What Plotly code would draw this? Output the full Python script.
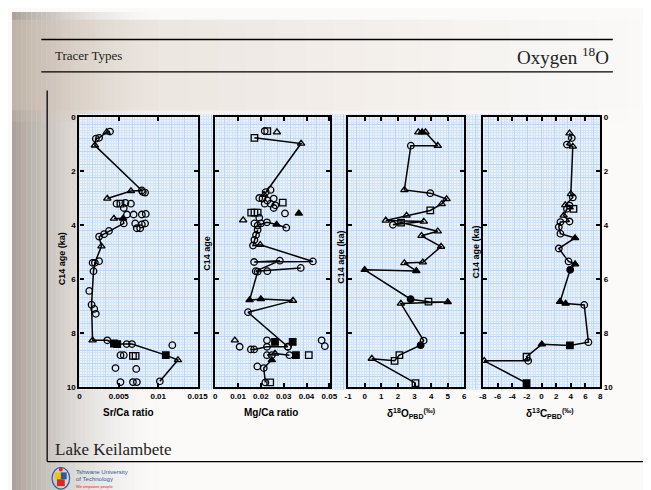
import plotly.graph_objects as go

# ---------------- data ----------------
# Panel 1: Sr/Ca ratio vs C14 age (ka); None separates connected segments
sr_line_x = [0.00388, 0.00346, 0.00250, 0.00208, 0.00196, 0.00792, 0.00654, 0.00354, None,
             0.00438, 0.00554, 0.00563, 0.00375, 0.00313, 0.00250, 0.00279, 0.00196, 0.00179,
             0.00154, 0.00167, 0.00354, 0.00438, 0.00480, 0.00667, 0.01096, 0.01250, 0.01021]
sr_line_age = [0.54, 0.56, 0.77, 0.80, 1.05, 2.72, 2.74, 3.02, None,
               3.76, 3.76, 3.94, 4.22, 4.34, 4.43, 4.79, 5.40, 5.71,
               6.95, 8.27, 8.27, 8.39, 8.41, 8.41, 8.82, 9.00, 9.79]
sr_line_sym = ["C", "T", "C", "C", "T", "C", "T", "T", "C",
               "T", "FT", "C", "C", "C", "C", "T", "C", "C",
               "C", "T", "C", "FS", "FS", "C", "FS", "T", "C"]
sr_pts_x = [0.00804, 0.00833, 0.00471, 0.00521, 0.00583, 0.00654, 0.00563, 0.00604, 0.00688,
            0.00792, 0.00842, 0.00708, 0.00792, 0.00833, 0.00729, 0.00771, 0.00167, 0.00250,
            0.00125, 0.00188, 0.00208, 0.01179, 0.00521, 0.00563, 0.00679, 0.00713, 0.00458,
            0.00721, 0.00521, 0.00679, 0.00729, 0.00600]
sr_pts_age = [2.78, 2.80, 3.21, 3.21, 3.18, 3.21, 3.37, 3.61, 3.61,
              3.61, 3.59, 3.94, 3.98, 3.94, 4.12, 4.12, 5.40, 5.34,
              6.44, 7.11, 7.29, 8.45, 8.82, 8.82, 8.85, 8.85, 9.30,
              9.33, 9.82, 9.82, 9.82, 8.41]
sr_pts_sym = ["C", "C", "C", "S", "C", "C", "C", "C", "C",
              "C", "C", "C", "C", "C", "C", "C", "C", "C",
              "C", "C", "C", "C", "C", "C", "S", "S", "C",
              "C", "C", "C", "C", "C"]

# Panel 2: Mg/Ca ratio
mg_line_x = [0.01718, 0.03761, 0.02141, None,
             0.01859, 0.02268, 0.02690, 0.03113, None,
             0.01859, 0.01789, 0.01718, 0.01655, 0.01972, 0.04280, 0.01704, 0.02831, 0.01775, 0.03746, None,
             0.01859, 0.01507, 0.02000, 0.03408, 0.01437, 0.03183, None,
             0.01563, 0.01704, 0.02268, 0.03183, None,
             0.02268, 0.02620, 0.03254, None,
             0.02479, 0.02127, 0.02197]
mg_line_age = [0.77, 0.98, 2.88, None,
               4.02, 3.90, 3.98, 4.10, None,
               4.18, 4.37, 4.55, 4.76, 4.73, 5.35, 5.37, 5.32, 5.71, 5.59, None,
               5.73, 6.78, 6.74, 6.80, 7.23, 8.51, None,
               8.61, 8.61, 8.51, 8.51, None,
               8.82, 8.76, 8.82, None,
               9.00, 9.30, 9.83]
mg_line_sym = ["S", "T", "T", "C",
               "C", "C", "FT", "C", "C",
               "C", "C", "C", "C", "T", "C", "C", "C", "C", "C", "C",
               "C", "FT", "FT", "T", "C", "C", "C",
               "C", "C", "C", "C", "C",
               "C", "T", "C", "C",
               "FT", "C", "C"]
mg_pts_x = [0.02169, 0.02282, 0.02704,
            0.02423, 0.02211, 0.01930, 0.02070, 0.02282, 0.02563, 0.02169, 0.02423, 0.02634, 0.02958, 0.02563,
            0.01577, 0.01718, 0.01859, 0.03056, 0.03662, 0.01225,
            0.01930, 0.01718, 0.02000,
            0.02282,
            0.02620, 0.03394, 0.02268, 0.00859, 0.01070,
            0.02479, 0.03535, 0.04099, 0.04662, 0.04803,
            0.01845, 0.02408]
mg_pts_age = [0.52, 0.52, 0.56,
              2.70, 2.78, 3.00, 3.02, 3.09, 3.02, 3.21, 3.21, 3.27, 3.17, 3.37,
              3.54, 3.54, 3.54, 3.57, 3.57, 3.82,
              3.73, 3.94, 3.94,
              5.71,
              8.33, 8.33, 8.27, 8.27, 8.51,
              8.82, 8.82, 8.82, 8.27, 8.49,
              9.24, 9.83]
mg_pts_sym = ["C", "S", "T",
              "C", "C", "C", "C", "C", "C", "C", "C", "C", "S", "C",
              "S", "S", "S", "C", "FT", "T",
              "C", "C", "C",
              "C",
              "FS", "FS", "C", "T", "C",
              "C", "FS", "S", "C", "C",
              "C", "S"]

# Panel 3: delta 18O PBD (per mil)
o18_line_x = [3.23, 3.46, 3.66, 4.40, 2.78, 2.39, 3.95, 4.93, 4.64, 3.95, 2.52, 1.27, 3.56,
              1.70, 2.19, 4.40, 3.42, 4.60, 3.50, 2.39, 3.11, 0.00, 2.77, 3.84, 5.00, 2.18,
              3.55, 3.37, 2.09, 1.80, 0.43, 3.06]
o18_line_age = [0.56, 0.56, 0.56, 1.06, 1.06, 2.70, 2.82, 3.04, 3.22, 3.46, 3.65, 3.83, 3.87,
                3.99, 3.91, 4.23, 4.40, 4.80, 5.38, 5.41, 5.70, 5.66, 6.75, 6.84, 6.85, 6.91,
                8.28, 8.45, 8.82, 9.03, 8.95, 9.86]
o18_line_sym = ["T", "FT", "T", "T", "C", "T", "C", "T", "T", "S", "T", "T", "T",
                "C", "S", "T", "T", "T", "T", "T", "FT", "FT", "FC", "S", "FT", "T",
                "C", "FC", "S", "S", "T", "S"]

# Panel 4: delta 13C PBD (per mil)
c13_line_x = [3.82, 4.13, 3.47, 4.27, 4.00, 4.27, 3.24, 3.82, 4.36, 3.47, 3.02, 3.82, 2.58,
              2.36, 2.58, 4.58, 2.36, 3.69, 4.58, 3.91, 2.53, 3.29, 5.83, 6.40, 3.87, 0.04,
              -2.04, -1.82, -7.82, -2.04]
c13_line_age = [0.60, 0.78, 1.02, 1.09, 2.85, 2.98, 3.26, 3.28, 3.40, 3.40, 3.65, 3.87, 3.89,
                4.07, 4.32, 4.48, 4.87, 5.35, 5.45, 5.66, 6.84, 6.91, 6.96, 8.34, 8.46, 8.42,
                8.88, 9.03, 9.03, 9.86]
c13_line_sym = ["T", "C", "C", "T", "T", "C", "T", "C", "S", "C", "T", "C", "C",
                "C", "C", "FT", "C", "C", "FT", "FC", "FT", "FT", "C", "C", "FS", "FT",
                "S", "C", "T", "FS"]

age_ticks = [0, 2, 4, 6, 8, 10]
age_labels = ["0", "2", "4", "6", "8", "10"]
sr_ticks = [0, 0.005, 0.01, 0.015]
sr_labels = ["0", "0.005", "0.01", "0.015"]
mg_ticks = [0, 0.01, 0.02, 0.03, 0.04, 0.05]
mg_labels = ["0", "0.01", "0.02", "0.03", "0.04", "0.05"]
o18_ticks = [-1, 0, 1, 2, 3, 4, 5, 6]
o18_labels = ["-1", "0", "1", "2", "3", "4", "5", "6"]
c13_ticks = [-8, -6, -4, -2, 0, 2, 4, 6, 8]
c13_labels = ["-8", "-6", "-4", "-2", "0", "2", "4", "6", "8"]

# ---------------- figure ----------------
W, H = 651, 490


def px(x):
    return x / W


def py(y):
    return 1 - y / H


SYM = {"C": "circle-open", "T": "triangle-up-open", "S": "square-open",
       "FC": "circle", "FT": "triangle-up", "FS": "square"}

fig = go.Figure()

# invisible trace for the graph-paper background axis
fig.add_trace(go.Scatter(x=[0], y=[0], mode="markers", marker=dict(opacity=0),
                         xaxis="x", yaxis="y", hoverinfo="skip", showlegend=False))

panels = [
    (sr_line_x, sr_line_age, sr_line_sym, sr_pts_x, sr_pts_age, sr_pts_sym),
    (mg_line_x, mg_line_age, mg_line_sym, mg_pts_x, mg_pts_age, mg_pts_sym),
    (o18_line_x, o18_line_age, o18_line_sym, [], [], []),
    (c13_line_x, c13_line_age, c13_line_sym, [], [], []),
]

for i, (lx, ly, ls, sx, sy, ss) in enumerate(panels):
    n = i + 2
    fig.add_trace(go.Scatter(
        x=lx, y=ly, mode="lines+markers", xaxis=f"x{n}", yaxis=f"y{n}",
        line=dict(color="black", width=1.5),
        marker=dict(symbol=[SYM[s] for s in ls], size=6.5, color="black",
                    line=dict(color="black", width=1.3)),
        connectgaps=False, hoverinfo="skip", showlegend=False))
    if sx:
        fig.add_trace(go.Scatter(
            x=sx, y=sy, mode="markers", xaxis=f"x{n}", yaxis=f"y{n}",
            marker=dict(symbol=[SYM[s] for s in ss], size=6.5, color="black",
                        line=dict(color="black", width=1.3)),
            hoverinfo="skip", showlegend=False))

tickfont = dict(family="Liberation Sans", size=8, color="black", weight="bold")

layout = dict(
    width=W, height=H, margin=dict(l=0, r=0, t=0, b=0),
    paper_bgcolor="#fbfaf9", plot_bgcolor="rgba(0,0,0,0)",
    showlegend=False,
    xaxis=dict(domain=[px(69), px(602)], range=[0, 533], showgrid=True, dtick=13.5,
               gridcolor="#bcd5f0", gridwidth=1,
               minor=dict(dtick=2.7, showgrid=True, gridcolor="#d3e4f6", gridwidth=1),
               showticklabels=False, zeroline=False, ticks="", showline=False, fixedrange=True),
    yaxis=dict(domain=[py(385), py(104)], range=[0, 281], showgrid=True, dtick=13.5,
               gridcolor="#bcd5f0", gridwidth=1,
               minor=dict(dtick=2.7, showgrid=True, gridcolor="#d3e4f6", gridwidth=1),
               showticklabels=False, zeroline=False, ticks="", showline=False, fixedrange=True),
)

xdoms = [(69, 190), (208, 326), (344, 463), (482, 602)]
xranges = [[0, 0.015], [0, 0.0505], [-1, 6], [-8, 8]]
xtv = [(sr_ticks, sr_labels), (mg_ticks, mg_labels), (o18_ticks, o18_labels), (c13_ticks, c13_labels)]

for i in range(4):
    n = i + 2
    layout[f"xaxis{n}"] = dict(
        domain=[px(xdoms[i][0]), px(xdoms[i][1])], range=xranges[i], anchor=f"y{n}",
        showline=True, linecolor="black", linewidth=2.2, mirror="ticks",
        ticks="inside", ticklen=4, tickwidth=1.5, tickcolor="black",
        tickvals=xtv[i][0], ticktext=xtv[i][1], tickfont=tickfont,
        showgrid=False, zeroline=False, fixedrange=True)
    layout[f"yaxis{n}"] = dict(
        domain=[py(382), py(107)], range=[10, 0], anchor=f"x{n}",
        showline=True, linecolor="black", linewidth=2.2, mirror="ticks",
        ticks="inside", ticklen=4, tickwidth=1.5, tickcolor="black",
        tickvals=age_ticks, ticktext=age_labels, tickfont=tickfont,
        showticklabels=(i in (0, 3)), side="right" if i == 3 else "left",
        showgrid=False, zeroline=False, fixedrange=True)

fig.update_layout(**layout)

shapes = []
# slide background shading: grey-brown fade on the left, beige band at the top
N = 32
for k in range(N):
    a = 0.78 * (1 - k / N) ** 2
    shapes.append(dict(type="rect", xref="paper", yref="paper", layer="below",
                       x0=px(k * 5), x1=px(k * 5 + 5), y0=0, y1=1,
                       fillcolor=f"rgba(148,137,128,{a:.3f})", line=dict(width=0)))
M = 22
for k in range(M):
    a = 0.5 * (1 - k / M) ** 1.2
    shapes.append(dict(type="rect", xref="paper", yref="paper", layer="below",
                       x0=px(k * 30), x1=px(k * 30 + 30), y0=py(100), y1=py(8),
                       fillcolor=f"rgba(212,197,182,{a:.3f})", line=dict(width=0)))
    shapes.append(dict(type="rect", xref="paper", yref="paper", layer="below",
                       x0=px(k * 30), x1=px(k * 30 + 30), y0=py(112), y1=py(100),
                       fillcolor=f"rgba(212,197,182,{a * 0.45:.3f})", line=dict(width=0)))
# graph-paper area of the figure
shapes.append(dict(type="rect", xref="paper", yref="paper", layer="below",
                   x0=px(69), x1=px(602), y0=py(385), y1=py(104),
                   fillcolor="#eaf2fb", line=dict(width=0)))
# slide rules
for (x0, y0, x1, y1) in [(30, 28, 615, 28), (30, 61, 615, 61), (36, 80, 36, 458), (36, 458, 651, 458)]:
    shapes.append(dict(type="line", xref="paper", yref="paper",
                       x0=px(x0), y0=py(y0), x1=px(x1), y1=py(y1),
                       line=dict(color="black", width=1.3)))
# logo
shapes.append(dict(type="circle", xref="paper", yref="paper", x0=px(41), x1=px(59), y0=py(486), y1=py(464),
                   line=dict(color="#2c5aa0", width=1.2), fillcolor="rgba(255,255,255,0)"))
shapes.append(dict(type="rect", xref="paper", yref="paper", x0=px(44), x1=px(50), y0=py(476), y1=py(469),
                   fillcolor="#f2c300", line=dict(width=0)))
shapes.append(dict(type="rect", xref="paper", yref="paper", x0=px(50), x1=px(56), y0=py(476), y1=py(469),
                   fillcolor="#2c5aa0", line=dict(width=0)))
shapes.append(dict(type="rect", xref="paper", yref="paper", x0=px(46), x1=px(54), y0=py(483), y1=py(476),
                   fillcolor="#d62828", line=dict(width=0)))
shapes.append(dict(type="circle", xref="paper", yref="paper", x0=px(48), x1=px(52), y0=py(468), y1=py(464),
                   fillcolor="#d62828", line=dict(width=0)))

serif = "Palatino Linotype, Book Antiqua, Liberation Serif, serif"
bold9 = dict(family="Liberation Sans", size=9, color="black", weight="bold")
bold10 = dict(family="Liberation Sans", size=10, color="black", weight="bold")

ann = []


def A(text, x, y, font, xanchor="center", yanchor="middle", angle=0):
    ann.append(dict(text=text, x=px(x), y=py(y), xref="paper", yref="paper", showarrow=False,
                    font=font, xanchor=xanchor, yanchor=yanchor, textangle=angle))


A("Tracer Types", 42, 44, dict(family=serif, size=13, color="#222"), xanchor="left")
A("Oxygen <sup>18</sup>O", 613, 45, dict(family=serif, size=19, color="#222"), xanchor="right")
A("Lake Keilambete", 42, 446, dict(family=serif, size=17, color="#222"), xanchor="left")
A("Tshwane University", 63, 469, dict(family="Liberation Sans", size=6, color="#2c5aa0"), xanchor="left")
A("of Technology", 63, 476, dict(family="Liberation Sans", size=6, color="#2c5aa0"), xanchor="left")
A("We empower people", 63, 483, dict(family="Liberation Sans", size=4, color="#d62828"), xanchor="left")

A("C14 age (ka)", 52, 251, bold9, angle=-90)
A("C14 age", 200, 246, bold9, angle=-90)
A("C14 age (ka)", 337, 250, bold9, angle=-90)
A("C14 age (ka)", 474, 245, bold9, angle=-90)

A("Sr/Ca ratio", 119, 408, bold10)
A("Mg/Ca ratio", 265, 408, bold10)
A("δ<sup>18</sup>O<sub>PBD</sub><sup>(‰)</sup>", 408, 409, bold10)
A("δ<sup>13</sup>C<sub>PBD</sub><sup>(‰)</sup>", 551, 409, bold10)

fig.update_layout(shapes=shapes, annotations=ann)
fig.write_html("out.html")
